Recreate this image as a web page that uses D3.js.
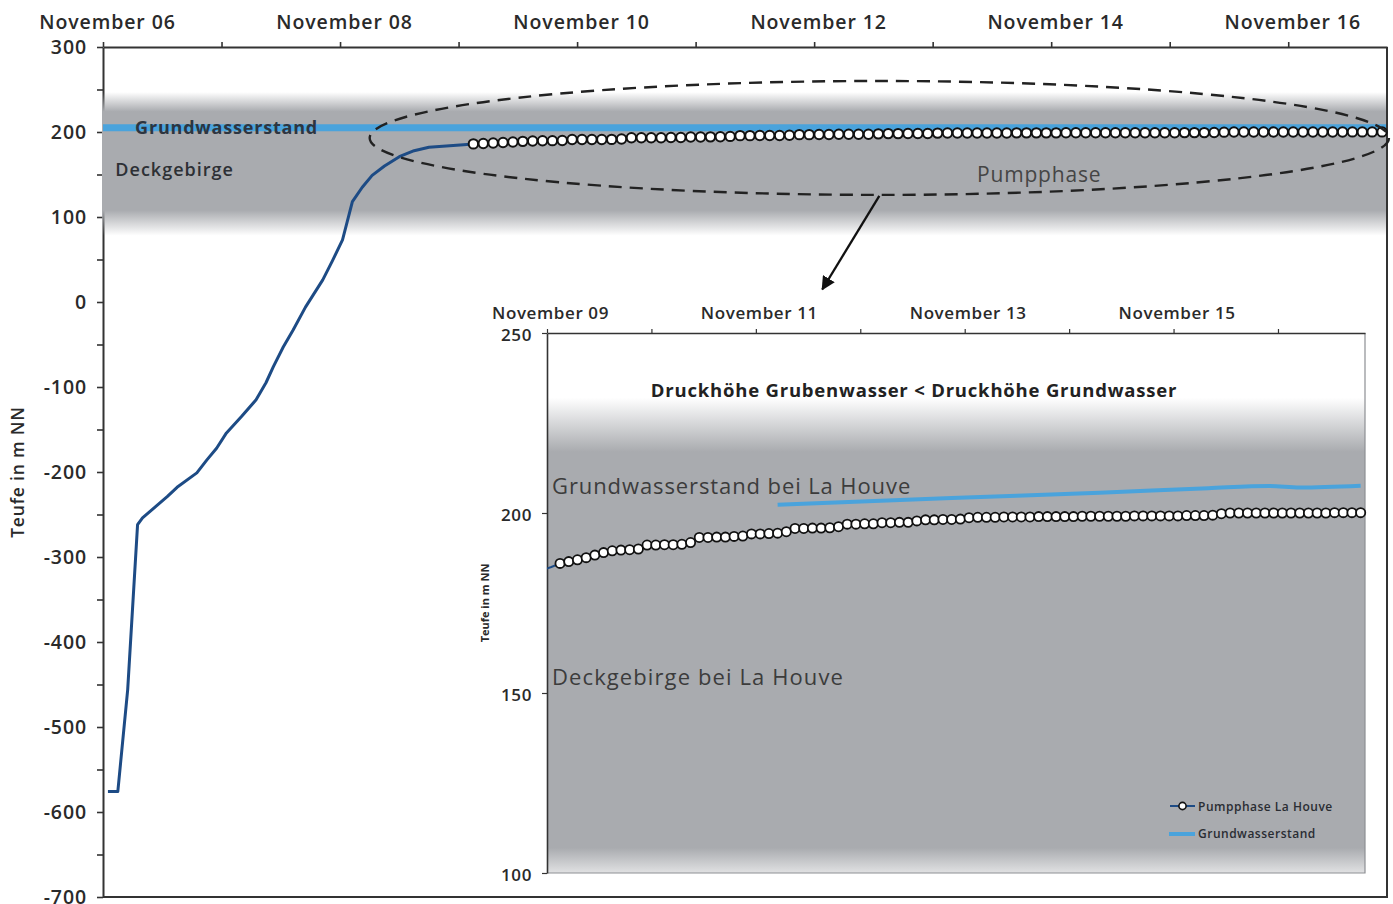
<!DOCTYPE html>
<html>
<head>
<meta charset="utf-8">
<script src="https://cdn.jsdelivr.net/npm/d3@7"></script>
<style>
  html, body { margin: 0; padding: 0; background: #fff; }
  svg { display: block; font-family: "Open Sans", "DejaVu Sans", sans-serif; }
</style>
</head>
<body>
<svg id="chart" width="1393" height="904"></svg>
<script>
// ---------------------------------------------------------------
// Data: water level in the shaft (m NN) during flooding / pumping
// ---------------------------------------------------------------

// Rise of the mine water before the pumping phase
const descentTimes = [
  "2015-11-06 01:00", "2015-11-06 03:00", "2015-11-06 05:00", "2015-11-06 07:00",
  "2015-11-06 08:00", "2015-11-06 11:00", "2015-11-06 13:00", "2015-11-06 15:00",
  "2015-11-06 19:00", "2015-11-06 21:00", "2015-11-06 23:00", "2015-11-07 01:00",
  "2015-11-07 04:00", "2015-11-07 07:00", "2015-11-07 09:00", "2015-11-07 10:30",
  "2015-11-07 12:30", "2015-11-07 14:30", "2015-11-07 17:00", "2015-11-07 20:30",
  "2015-11-07 22:30", "2015-11-08 00:30", "2015-11-08 02:30", "2015-11-08 04:30",
  "2015-11-08 06:30", "2015-11-08 09:00", "2015-11-08 12:00", "2015-11-08 15:00",
  "2015-11-08 18:00", "2015-11-09 01:00"
];
const descentLevels = [
  -576, -576, -456, -262,
  -254, -239, -229, -218,
  -201, -186, -172, -154,
  -135, -115, -95, -76,
  -53, -33, -6, 26,
  49, 73, 118, 135,
  149, 160, 171, 178,
  182, 185
];

// Pumping phase La Houve: one reading every two hours
const pumpStart = "2015-11-09 03:00";
const pumpStepHours = 2;
const pumpLevels = [
  186.0, 186.5, 187.0, 187.6, 188.3, 189.0, 189.5, 189.7, 189.8, 190.0,
  191.1, 191.1, 191.2, 191.2, 191.3, 191.8, 193.2, 193.2, 193.3, 193.3,
  193.5, 193.6, 194.2, 194.2, 194.3, 194.4, 194.8, 195.7, 195.7, 195.8,
  195.8, 195.9, 196.2, 196.9, 196.9, 197.0, 197.0, 197.3, 197.3, 197.4,
  197.4, 197.8, 198.1, 198.1, 198.2, 198.2, 198.3, 198.7, 198.8, 198.8,
  198.8, 198.9, 198.9, 198.9, 198.9, 199.0, 199.0, 199.0, 199.0, 199.0,
  199.1, 199.1, 199.1, 199.1, 199.1, 199.1, 199.2, 199.2, 199.2, 199.2,
  199.2, 199.2, 199.3, 199.3, 199.3, 199.4, 199.8, 200.0, 200.0, 200.0,
  200.0, 200.0, 200.0, 200.0, 200.0, 200.0, 200.0, 200.0, 200.0, 200.1,
  200.1, 200.1, 200.1
];

// Groundwater level near La Houve
const groundwaterTimes = [
  "2015-11-11 05:00", "2015-11-12 21:00", "2015-11-14 07:00", "2015-11-15 08:00",
  "2015-11-15 22:00", "2015-11-16 05:00", "2015-11-16 19:00"
];
const groundwaterLevels = [202.3, 204.2, 205.6, 206.9, 207.5, 207.1, 207.6];
const mainGroundwaterLevel = 205;

// Overburden (Deckgebirge) band, m NN: fade-in top, solid top, solid bottom, fade-out bottom
const overburdenMain = [247, 224, 108, 78];
const overburdenInset = [232, 217, 107, 100];

// Axis domains
const mainTimeDomain = ["2015-11-06 00:00", "2015-11-16 20:00"];
const mainLevelDomain = [-700, 300];
const mainLevelTicks = d3.range(-700, 301, 50);
const insetTimeDomain = ["2015-11-09 00:00", "2015-11-16 20:00"];
const insetLevelDomain = [100, 250];
const insetLevelTicks = [100, 150, 200, 250];

// ---------------------------------------------------------------
const parseTime = d3.timeParse("%Y-%m-%d %H:%M");
const fmtDay = d3.timeFormat("%B %d");

const descent = descentTimes.map((t, i) => ({ t: parseTime(t), v: descentLevels[i] }));
const pumpT0 = parseTime(pumpStart);
const pump = pumpLevels.map((v, i) => ({ t: d3.timeHour.offset(pumpT0, i * pumpStepHours), v }));
const groundwater = groundwaterTimes.map((t, i) => ({ t: parseTime(t), v: groundwaterLevels[i] }));
const fullSeries = descent.concat(pump);

const GRAY = "#a9abaf";
const LINE_BLUE = "#1d4b85";
const WATER_BLUE = "#4aa3dc";
const INK = "#2a2a2a";

const svg = d3.select("#chart");
const defs = svg.append("defs");

// ---------------- main chart ----------------
const M = { left: 103, right: 1387, top: 47, bottom: 897 };
const x = d3.scaleTime().domain(mainTimeDomain.map(parseTime)).range([M.left, M.right]);
const y = d3.scaleLinear().domain(mainLevelDomain).range([M.bottom, M.top]);

defs.append("clipPath").attr("id", "clipMain")
  .append("rect").attr("x", M.left).attr("y", M.top)
  .attr("width", M.right - M.left).attr("height", M.bottom - M.top);

// vertical fade-in / solid / fade-out gradient for an overburden band
function bandGradient(id, scale, stops, endOpacity) {
  const [a, b, c, d] = stops;
  const g = defs.append("linearGradient").attr("id", id)
    .attr("gradientUnits", "userSpaceOnUse")
    .attr("x1", 0).attr("x2", 0).attr("y1", scale(a)).attr("y2", scale(d));
  const span = scale(d) - scale(a);
  g.append("stop").attr("offset", 0).attr("stop-color", GRAY).attr("stop-opacity", 0);
  g.append("stop").attr("offset", (scale(b) - scale(a)) / span).attr("stop-color", GRAY).attr("stop-opacity", 1);
  g.append("stop").attr("offset", (scale(c) - scale(a)) / span).attr("stop-color", GRAY).attr("stop-opacity", 1);
  g.append("stop").attr("offset", 1).attr("stop-color", GRAY).attr("stop-opacity", endOpacity);
  return g;
}

// frame: right and bottom edges
svg.append("line").attr("x1", M.right).attr("x2", M.right).attr("y1", M.top).attr("y2", M.bottom)
  .attr("stroke", "#333").attr("stroke-width", 2);
svg.append("line").attr("x1", M.left).attr("x2", M.right + 1).attr("y1", M.bottom).attr("y2", M.bottom)
  .attr("stroke", "#333").attr("stroke-width", 2);

// axes
const xAxisMain = d3.axisTop(x)
  .ticks(d3.timeDay.every(1))
  .tickSizeInner(5).tickSizeOuter(0).tickPadding(12)
  .tickFormat(d => d3.timeDay.count(x.domain()[0], d) % 2 === 0 ? fmtDay(d) : "");
const gxMain = svg.append("g").attr("transform", `translate(0,${M.top})`).call(xAxisMain);

const yAxisMain = d3.axisLeft(y)
  .tickValues(mainLevelTicks)
  .tickSizeInner(6).tickSizeOuter(0).tickPadding(11)
  .tickFormat(d => d % 100 === 0 ? String(d) : "");
const gyMain = svg.append("g").attr("transform", `translate(${M.left},0)`).call(yAxisMain);

[gxMain, gyMain].forEach(g => {
  g.select(".domain").attr("stroke", "#333").attr("stroke-width", 2);
  g.selectAll(".tick line").attr("stroke", "#333").attr("stroke-width", 1.6);
  g.selectAll(".tick text").attr("fill", INK).attr("font-size", 19.5)
    .attr("font-weight", 600).attr("letter-spacing", 0.9)
    .attr("font-family", "\"Open Sans\", sans-serif");
});
gxMain.selectAll(".tick text").attr("dx", 4).attr("dy", -1);
gyMain.selectAll(".tick text").attr("dx", 1);

// overburden band
bandGradient("bandMain", y, overburdenMain, 0);
svg.append("rect")
  .attr("x", M.left - 1).attr("width", M.right - M.left)
  .attr("y", y(overburdenMain[0])).attr("height", y(overburdenMain[3]) - y(overburdenMain[0]))
  .attr("fill", "url(#bandMain)");

// groundwater level
svg.append("line")
  .attr("x1", M.left).attr("x2", M.right - 1)
  .attr("y1", y(mainGroundwaterLevel)).attr("y2", y(mainGroundwaterLevel))
  .attr("stroke", WATER_BLUE).attr("stroke-width", 7);

// water level line
const lineMain = d3.line().x(d => x(d.t)).y(d => y(d.v));
svg.append("path").datum(fullSeries)
  .attr("clip-path", "url(#clipMain)")
  .attr("d", lineMain)
  .attr("fill", "none").attr("stroke", LINE_BLUE).attr("stroke-width", 3)
  .attr("stroke-linejoin", "round");

svg.append("g").selectAll("circle").data(pump).join("circle")
  .attr("cx", d => x(d.t)).attr("cy", d => y(d.v)).attr("r", 4.7)
  .attr("fill", "#fff").attr("stroke", "#111").attr("stroke-width", 2);

// y title
svg.append("text")
  .attr("transform", `translate(24,472) rotate(-90)`)
  .attr("text-anchor", "middle")
  .attr("font-size", 17.5).attr("font-weight", 600).attr("letter-spacing", 0.8).attr("fill", INK)
  .text("Teufe in m NN");

// labels on the band
svg.append("text").attr("x", x(parseTime("2015-11-06 06:30"))).attr("y", y(mainGroundwaterLevel) + 6)
  .attr("font-size", 18).attr("font-weight", 700).attr("letter-spacing", 0.8).attr("fill", "#2d3540")
  .text("Grundwasserstand");
svg.append("text").attr("x", x(parseTime("2015-11-06 02:30"))).attr("y", y(150) + 1)
  .attr("font-size", 18).attr("font-weight", 600).attr("letter-spacing", 1).attr("fill", "#2d3035")
  .text("Deckgebirge");
svg.append("text").attr("x", x(parseTime("2015-11-13 09:00"))).attr("y", y(141))
  .attr("font-size", 21).attr("font-weight", 400).attr("letter-spacing", 0.8).attr("fill", "#454545")
  .text("Pumpphase");

// dashed ellipse around the pumping phase
const ellL = x(parseTime("2015-11-08 06:00")), ellR = x(parseTime("2015-11-16 20:24"));
const ellT = y(260), ellB = y(126);
svg.append("ellipse")
  .attr("cx", (ellL + ellR) / 2).attr("cy", (ellT + ellB) / 2)
  .attr("rx", (ellR - ellL) / 2).attr("ry", (ellB - ellT) / 2)
  .attr("fill", "none").attr("stroke", "#222").attr("stroke-width", 2.4)
  .attr("stroke-dasharray", "13 8");

// arrow towards the detail view
defs.append("marker").attr("id", "arrowHead")
  .attr("viewBox", "0 0 10 10").attr("refX", 9).attr("refY", 5)
  .attr("markerWidth", 6).attr("markerHeight", 6).attr("orient", "auto")
  .append("path").attr("d", "M0,0 L10,5 L0,10 z").attr("fill", "#111");
svg.append("line")
  .attr("x1", (ellL + ellR) / 2).attr("y1", ellB + 1)
  .attr("x2", x(parseTime("2015-11-12 01:40"))).attr("y2", y(15))
  .attr("stroke", "#111").attr("stroke-width", 2.3)
  .attr("marker-end", "url(#arrowHead)");

// ---------------- detail view ----------------
const I = { left: 547, right: 1365, top: 333, bottom: 873 };
const xi = d3.scaleTime().domain(insetTimeDomain.map(parseTime)).range([I.left, I.right]);
const yi = d3.scaleLinear().domain(insetLevelDomain).range([I.bottom, I.top]);

defs.append("clipPath").attr("id", "clipInset")
  .append("rect").attr("x", I.left).attr("y", I.top)
  .attr("width", I.right - I.left).attr("height", I.bottom - I.top);

svg.append("rect").attr("x", I.left).attr("y", I.top)
  .attr("width", I.right - I.left).attr("height", I.bottom - I.top).attr("fill", "#fff");

// band ends on a light floor at the bottom of the detail view
bandGradient("bandInset", yi, overburdenInset, 0.35);
svg.append("rect")
  .attr("x", I.left).attr("width", I.right - I.left)
  .attr("y", yi(overburdenInset[0])).attr("height", yi(overburdenInset[3]) - yi(overburdenInset[0]))
  .attr("fill", "url(#bandInset)");

// right / bottom border of the detail view
svg.append("path")
  .attr("d", `M${I.right},${I.top} V${I.bottom} H${I.left}`)
  .attr("fill", "none").attr("stroke", "#8d8f93").attr("stroke-width", 1.2);

const xAxisInset = d3.axisTop(xi)
  .ticks(d3.timeDay.every(1))
  .tickSizeInner(4).tickSizeOuter(0).tickPadding(7)
  .tickFormat(d => d3.timeDay.count(xi.domain()[0], d) % 2 === 0 ? fmtDay(d) : "");
const gxInset = svg.append("g").attr("transform", `translate(0,${I.top})`).call(xAxisInset);
const yAxisInset = d3.axisLeft(yi)
  .tickValues(insetLevelTicks)
  .tickSizeInner(5).tickSizeOuter(0).tickPadding(10)
  .tickFormat(d => String(d));
const gyInset = svg.append("g").attr("transform", `translate(${I.left},0)`).call(yAxisInset);
[gxInset, gyInset].forEach(g => {
  g.select(".domain").attr("stroke", "#333").attr("stroke-width", 1.6);
  g.selectAll(".tick line").attr("stroke", "#333").attr("stroke-width", 1.2);
  g.selectAll(".tick text").attr("fill", INK).attr("font-size", 17)
    .attr("font-weight", 600).attr("letter-spacing", 0.6)
    .attr("font-family", "\"Open Sans\", sans-serif");
});
gxInset.selectAll(".tick text").attr("dx", 3).attr("dy", -3);
gyInset.selectAll(".tick text").attr("dy", "0.42em");

// groundwater in the detail view
const lineInset = d3.line().x(d => xi(d.t)).y(d => yi(d.v)).curve(d3.curveMonotoneX);
svg.append("path").datum(groundwater)
  .attr("d", lineInset)
  .attr("fill", "none").attr("stroke", WATER_BLUE).attr("stroke-width", 4);

// pumping phase in the detail view (line clipped to the frame)
svg.append("path").datum(fullSeries)
  .attr("clip-path", "url(#clipInset)")
  .attr("d", d3.line().x(d => xi(d.t)).y(d => yi(d.v)))
  .attr("fill", "none").attr("stroke", LINE_BLUE).attr("stroke-width", 2);
svg.append("g").selectAll("circle").data(pump).join("circle")
  .attr("cx", d => xi(d.t)).attr("cy", d => yi(d.v)).attr("r", 4.6)
  .attr("fill", "#fff").attr("stroke", "#111").attr("stroke-width", 1.8);

// titles and labels of the detail view
svg.append("text")
  .attr("transform", `translate(489,${(I.top + I.bottom) / 2}) rotate(-90)`)
  .attr("text-anchor", "middle")
  .attr("font-size", 11).attr("font-weight", 700).attr("fill", INK)
  .text("Teufe in m NN");
svg.append("text").attr("x", (I.left + I.right) / 2 - 42).attr("y", 397)
  .attr("text-anchor", "middle")
  .attr("font-size", 18.5).attr("font-weight", 700).attr("letter-spacing", 0.8).attr("fill", "#222")
  .text("Druckhöhe Grubenwasser < Druckhöhe Grundwasser");
svg.append("text").attr("x", I.left + 5).attr("y", yi(205.3))
  .attr("font-size", 22).attr("font-weight", 400).attr("letter-spacing", 0.9).attr("fill", "#3c3c3c")
  .text("Grundwasserstand bei La Houve");
svg.append("text").attr("x", I.left + 5).attr("y", yi(152.2))
  .attr("font-size", 22).attr("font-weight", 400).attr("letter-spacing", 1.1).attr("fill", "#3c3c3c")
  .text("Deckgebirge bei La Houve");

// legend
const lg = svg.append("g").attr("transform", "translate(1170,806)");
lg.append("line").attr("x1", 0).attr("x2", 25).attr("y1", 0).attr("y2", 0)
  .attr("stroke", LINE_BLUE).attr("stroke-width", 2);
lg.append("circle").attr("cx", 12.5).attr("cy", 0).attr("r", 3.6)
  .attr("fill", "#fff").attr("stroke", "#111").attr("stroke-width", 1.6);
lg.append("text").attr("x", 28).attr("y", 4.5)
  .attr("font-size", 12).attr("font-weight", 600).attr("letter-spacing", 0.5).attr("fill", "#2a2d33")
  .text("Pumpphase La Houve");
lg.append("line").attr("x1", -1).attr("x2", 25).attr("y1", 28).attr("y2", 28)
  .attr("stroke", WATER_BLUE).attr("stroke-width", 4);
lg.append("text").attr("x", 28).attr("y", 32)
  .attr("font-size", 12).attr("font-weight", 600).attr("letter-spacing", 0.5).attr("fill", "#2a2d33")
  .text("Grundwasserstand");
</script>
</body>
</html>
